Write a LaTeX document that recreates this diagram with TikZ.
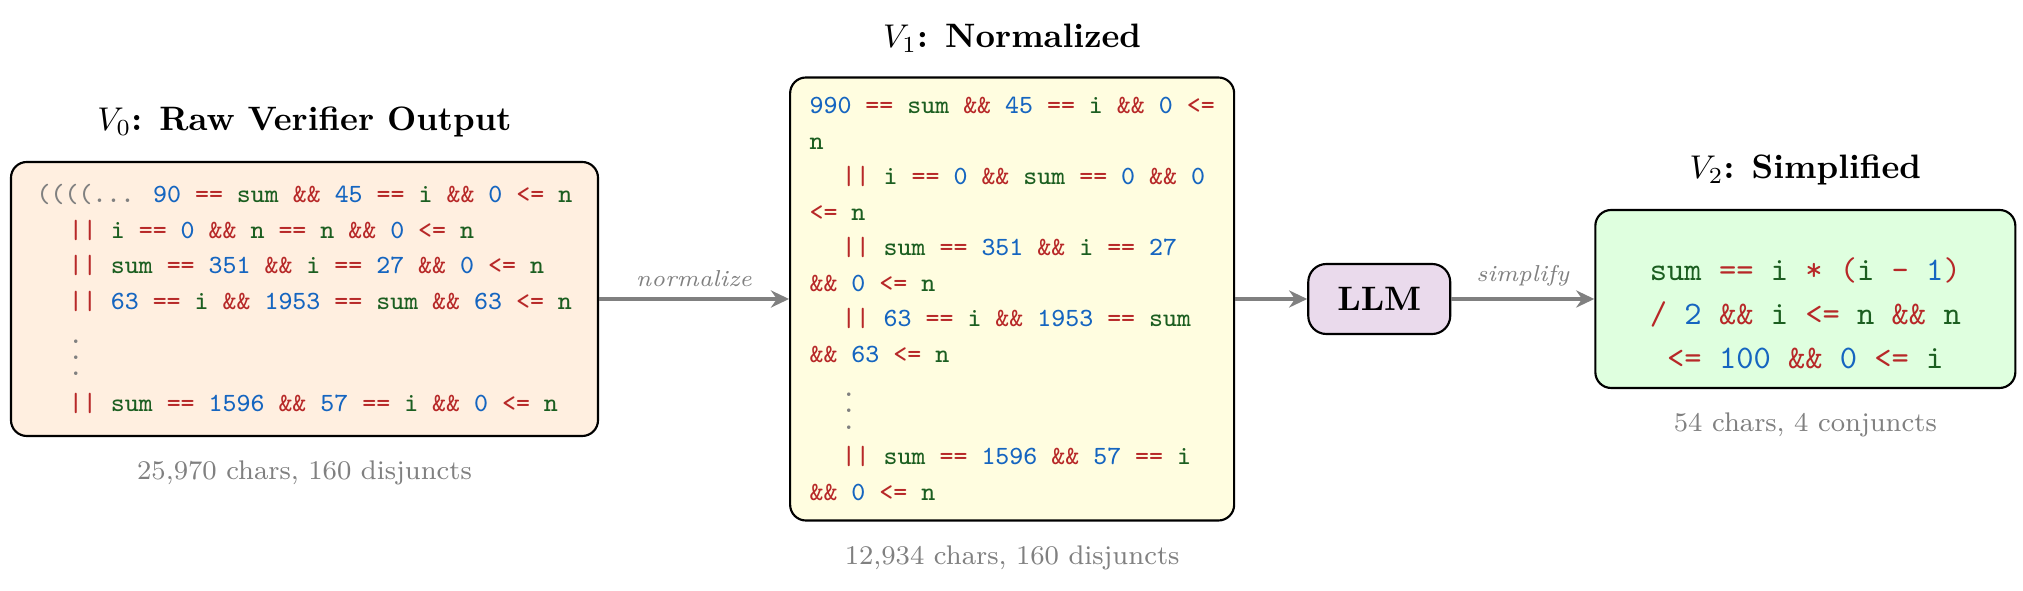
\documentclass[tikz,border=0pt]{standalone}
\usepackage{xcolor}
\definecolor{PeachFill}{RGB}{255,239,224}
\definecolor{CreamFill}{RGB}{255,253,224}
\definecolor{LilacFill}{RGB}{234,218,236}
\definecolor{MintFill}{RGB}{223,255,223}
\definecolor{CodeRed}{RGB}{183,40,40}
\definecolor{CodeBlue}{RGB}{21,101,192}
\definecolor{CodeGreen}{RGB}{27,94,32}
\definecolor{SoftGray}{RGB}{128,128,128}
\usepackage{amsmath}
\usepackage{tikz}
\usetikzlibrary{arrows.meta,positioning}

\newcommand{\cop}[1]{\textcolor{CodeRed}{#1}}
\newcommand{\cnum}[1]{\textcolor{CodeBlue}{#1}}
\newcommand{\cvar}[1]{\textcolor{CodeGreen}{#1}}
\newcommand{\orind}{\hspace*{9.8pt}}
\newcommand{\codedots}{\textcolor{SoftGray}{\smash{\vbox{\baselineskip=5pt\lineskiplimit=-20pt\hbox{.}\hbox{.}\hbox{.}}}}}

\begin{document}
\begin{tikzpicture}[
  node distance=0.25cm,
  codebox/.style={rectangle, rounded corners=4.8pt, draw=black, line width=0.65pt,
                  align=left, inner sep=0pt,
                  font=\ttfamily\fontsize{8}{10.8}\selectfont},
  llmbox/.style={rectangle, rounded corners=5.5pt, draw=black, line width=0.65pt,
                 fill=LilacFill, minimum width=1.517cm, minimum height=0.748cm,
                 font=\fontsize{10.3}{12}\selectfont\bfseries},
  headlbl/.style={inner sep=0pt, font=\fontsize{10.3}{12}\selectfont\bfseries},
  statlbl/.style={inner sep=0pt, text=SoftGray, font=\fontsize{8.2}{10}\selectfont},
  edgelbl/.style={text=SoftGray, font=\scriptsize\itshape},
  arr/.style={-{Stealth[length=5.5pt,width=5.2pt]}, line width=0.95pt, color=SoftGray}
]
  \useasboundingbox (-3.254,-3.120) rectangle (18.364,3.195);

  % raw verifier output
  \node[codebox, fill=PeachFill, minimum width=6.273cm, minimum height=2.928cm] (v0) {%
    \textcolor{SoftGray}{((((...} \cnum{90} \cop{==} \cvar{sum} \cop{\&\&} \cnum{45} \cop{==} \cvar{i} \cop{\&\&} \cnum{0} \cop{<=} \cvar{n}\\
    \orind\cop{||} \cvar{i} \cop{==} \cnum{0} \cop{\&\&} \cvar{n} \cop{==} \cvar{n} \cop{\&\&} \cnum{0} \cop{<=} \cvar{n}\\
    \orind\cop{||} \cvar{sum} \cop{==} \cnum{351} \cop{\&\&} \cvar{i} \cop{==} \cnum{27} \cop{\&\&} \cnum{0} \cop{<=} \cvar{n}\\
    \orind\cop{||} \cnum{63} \cop{==} \cvar{i} \cop{\&\&} \cnum{1953} \cop{==} \cvar{sum} \cop{\&\&} \cnum{63} \cop{<=} \cvar{n}\\[9.5pt]
    \orind\codedots\\
    \orind\cop{||} \cvar{sum} \cop{==} \cnum{1596} \cop{\&\&} \cnum{57} \cop{==} \cvar{i} \cop{\&\&} \cnum{0} \cop{<=} \cvar{n}};

  % normalized
  \node[codebox, fill=CreamFill, minimum width=4.745cm, minimum height=4.734cm,
        right=2.03cm of v0] (v1) {%
    \cnum{990} \cop{==} \cvar{sum} \cop{\&\&} \cnum{45} \cop{==} \cvar{i} \cop{\&\&} \cnum{0} \cop{<=}\\
    \cvar{n}\\
    \orind\cop{||} \cvar{i} \cop{==} \cnum{0} \cop{\&\&} \cvar{sum} \cop{==} \cnum{0} \cop{\&\&} \cnum{0}\\
    \cop{<=} \cvar{n}\\
    \orind\cop{||} \cvar{sum} \cop{==} \cnum{351} \cop{\&\&} \cvar{i} \cop{==} \cnum{27}\\
    \cop{\&\&} \cnum{0} \cop{<=} \cvar{n}\\
    \orind\cop{||} \cnum{63} \cop{==} \cvar{i} \cop{\&\&} \cnum{1953} \cop{==} \cvar{sum}\\
    \cop{\&\&} \cnum{63} \cop{<=} \cvar{n}\\[9.5pt]
    \orind\codedots\\
    \orind\cop{||} \cvar{sum} \cop{==} \cnum{1596} \cop{\&\&} \cnum{57} \cop{==} \cvar{i}\\
    \cop{\&\&} \cnum{0} \cop{<=} \cvar{n}};

  \node[llmbox, right=0.769cm of v1] (llm) {LLM};

  % simplified
  \node[codebox, fill=MintFill, minimum width=4.488cm, minimum height=1.902cm,
        align=center, font=\ttfamily\fontsize{10}{13.4}\selectfont,
        right=1.528cm of llm] (v2) {%
    \rule{0pt}{15.6pt}\cvar{sum} \cop{==} \cvar{i} \cop{*} \cop{(}\cvar{i} \cop{-} \cnum{1}\cop{)}\\
    \cop{/} \cnum{2} \cop{\&\&} \cvar{i} \cop{<=} \cvar{n} \cop{\&\&} \cvar{n}\\
    \cop{<=} \cnum{100} \cop{\&\&} \cnum{0} \cop{<=} \cvar{i}};

  % titles and sizes
  \node[headlbl, above=0.247cm of v0] (t0) {$V_0$: Raw Verifier Output};
  \node[headlbl, above=0.247cm of v1] (t1) {$V_1$: Normalized};
  \node[headlbl, above=0.247cm of v2] (t2) {$V_2$: Simplified};
  \node[statlbl, below=0.25cm of v0] (n0) {25,970 chars, 160 disjuncts};
  \node[statlbl, below=0.25cm of v1] (n1) {12,934 chars, 160 disjuncts};
  \node[statlbl, below=0.25cm of v2] (n2) {54 chars, 4 conjuncts};

  \draw[arr] (v0) -- node[edgelbl, above] {normalize} (v1);
  \draw[arr] (v1) -- (llm);
  \draw[arr] (llm) -- node[edgelbl, above] {simplify} (v2);
\end{tikzpicture}
\end{document}
